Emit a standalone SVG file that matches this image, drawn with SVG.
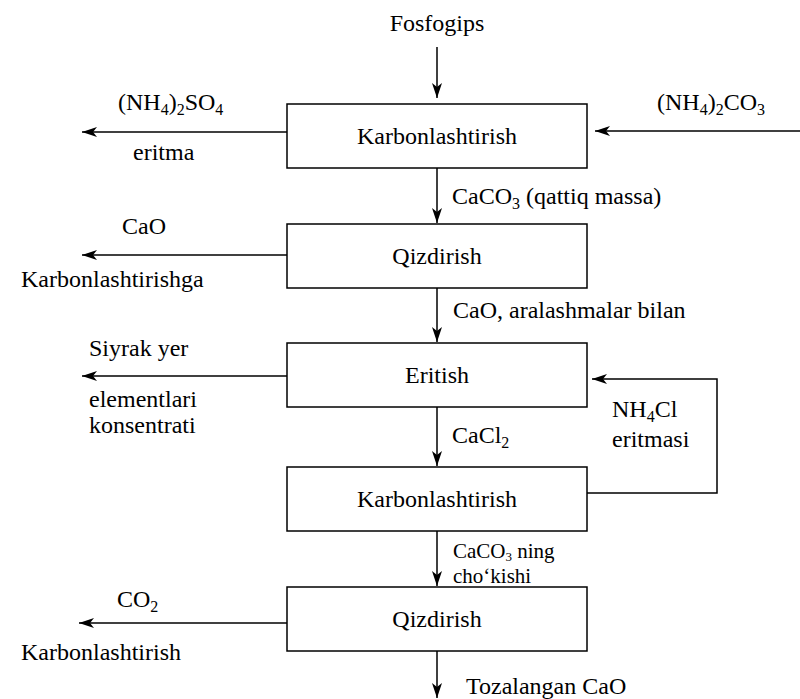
<svg xmlns="http://www.w3.org/2000/svg" width="800" height="699" viewBox="0 0 800 699">
<style>
text{font-family:"Liberation Serif","Times New Roman",Tinos,"DejaVu Serif",serif;font-size:24px;fill:#000}
.sub{font-size:16px}
.sm{font-size:21px}
.sm .sub{font-size:13px}
.box{fill:#fff;stroke:#000;stroke-width:1.5}
.ln{fill:none;stroke:#000;stroke-width:1.5;marker-end:url(#ah)}
</style>
<defs>
<marker id="ah" viewBox="0 0 15 10" refX="15" refY="5" markerWidth="15" markerHeight="10" markerUnits="userSpaceOnUse" orient="auto">
<path d="M0,0 L15,5 L0,10 L4,5 z" fill="#000"/>
</marker>
</defs>
<rect width="800" height="699" fill="#fff"/>
<g id="connectors">
<line class="ln" x1="437" y1="47" x2="437" y2="98"/>
<line class="ln" x1="287" y1="132" x2="82" y2="132"/>
<line class="ln" x1="800" y1="131" x2="595" y2="131"/>
<line class="ln" x1="437" y1="168" x2="437" y2="223"/>
<line class="ln" x1="287" y1="255" x2="82" y2="255"/>
<line class="ln" x1="437" y1="288" x2="437" y2="342"/>
<line class="ln" x1="287" y1="376" x2="82" y2="376"/>
<line class="ln" x1="437" y1="407" x2="437" y2="466"/>
<polyline class="ln" points="587,493 717,493 717,379 592,379"/>
<line class="ln" x1="437" y1="531" x2="437" y2="586"/>
<line class="ln" x1="287" y1="623" x2="79" y2="623"/>
<line class="ln" x1="437" y1="651" x2="437" y2="698"/>
</g>
<g id="label-fosfogips"><text x="437" y="31" text-anchor="middle">Fosfogips</text></g>
<g id="node-karbon1">
<rect class="box" x="287" y="104" width="300" height="64"/>
<text x="437" y="144" text-anchor="middle">Karbonlashtirish</text>
</g>
<g id="node-qizdirish1">
<rect class="box" x="287" y="224" width="300" height="64"/>
<text x="437" y="264" text-anchor="middle">Qizdirish</text>
</g>
<g id="node-eritish">
<rect class="box" x="287" y="343" width="300" height="64"/>
<text x="437" y="383" text-anchor="middle">Eritish</text>
</g>
<g id="node-karbon2">
<rect class="box" x="287" y="467" width="300" height="64"/>
<text x="437" y="507" text-anchor="middle">Karbonlashtirish</text>
</g>
<g id="node-qizdirish2">
<rect class="box" x="287" y="587" width="300" height="64"/>
<text x="437" y="627" text-anchor="middle">Qizdirish</text>
</g>
<g id="labels">
<text x="118" y="110">(NH<tspan class="sub" dy="5">4</tspan><tspan dy="-5">)</tspan><tspan class="sub" dy="5">2</tspan><tspan dy="-5">SO</tspan><tspan class="sub" dy="5">4</tspan></text>
<text x="133" y="160">eritma</text>
<text x="657" y="110">(NH<tspan class="sub" dy="5">4</tspan><tspan dy="-5">)</tspan><tspan class="sub" dy="5">2</tspan><tspan dy="-5">CO</tspan><tspan class="sub" dy="5">3</tspan></text>
<text x="452" y="204">CaCO<tspan class="sub" dy="5">3</tspan><tspan dy="-5"> (qattiq massa)</tspan></text>
<text x="122" y="234">CaO</text>
<text x="21" y="287">Karbonlashtirishga</text>
<text x="453" y="318">CaO, aralashmalar bilan</text>
<text x="89" y="356">Siyrak yer</text>
<text x="89" y="407">elementlari</text>
<text x="89" y="433">konsentrati</text>
<text x="612" y="417">NH<tspan class="sub" dy="5">4</tspan><tspan dy="-5">Cl</tspan></text>
<text x="612" y="447">eritmasi</text>
<text x="452" y="443">CaCl<tspan class="sub" dy="5">2</tspan></text>
<text class="sm" x="453" y="558">CaCO<tspan class="sub" dy="3">3</tspan><tspan dy="-3"> ning</tspan></text>
<text class="sm" x="453" y="583">cho‘kishi</text>
<text x="117" y="607">CO<tspan class="sub" dy="5">2</tspan></text>
<text x="21" y="660">Karbonlashtirish</text>
<text x="466" y="694">Tozalangan CaO</text>
</g>
</svg>
